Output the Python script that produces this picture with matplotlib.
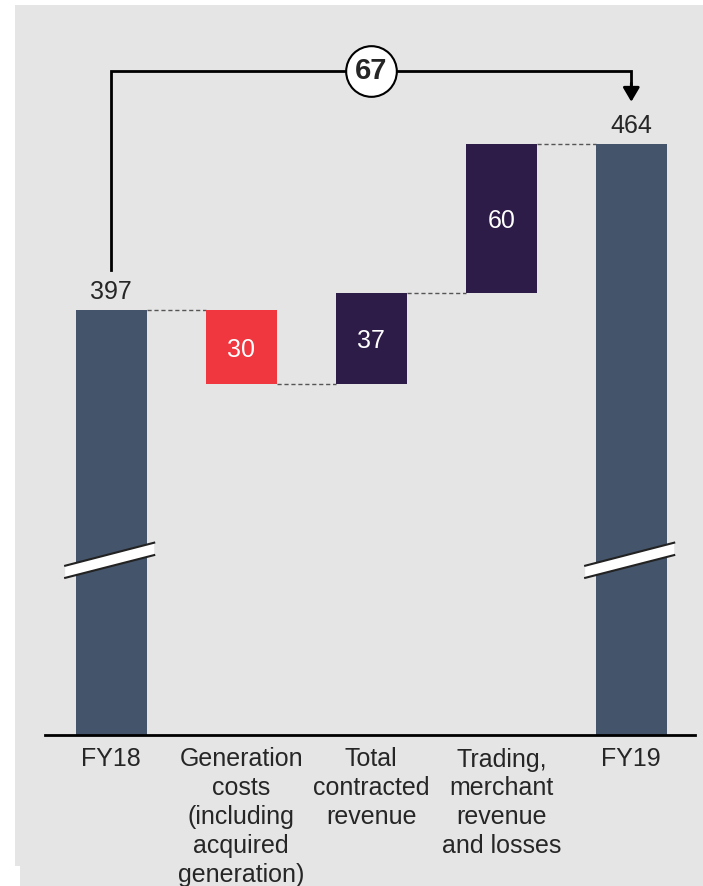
import matplotlib
matplotlib.use("Agg")
import matplotlib.pyplot as plt
from matplotlib.patches import Rectangle, Polygon
import numpy as np

plt.rcParams['font.family'] = ['Liberation Sans', 'DejaVu Sans']

# data
categories = ['FY18', 'Generation\ncosts\n(including\nacquired\ngeneration)',
              'Total\ncontracted\nrevenue', 'Trading,\nmerchant\nrevenue\nand losses', 'FY19']
start_value = 397
deltas = [-30, 37, 60]
end_value = 464
total_change = 67

# colours
bg = '#e5e5e5'
total_col = '#44546a'
neg_col = '#f0363e'
pos_col = '#2d1b48'
text_col = '#262626'

# scale / layout
base = 225.5          # value at the broken axis baseline
ytop = 514.0
bar_w = 0.55

fig = plt.figure(figsize=(7.03, 8.86), dpi=100)
fig.patch.set_facecolor('white')
fig.add_artist(Rectangle((15 / 703, 0), 1, (886 - 5) / 886, transform=fig.transFigure,
                         facecolor=bg, edgecolor='none', zorder=0))
fig.add_artist(Rectangle((0, 0), 20 / 703, 20 / 886, transform=fig.transFigure,
                         facecolor='white', edgecolor='none', zorder=0))

ax = fig.add_axes([45 / 703, 151 / 886, 650 / 703, 715 / 886])
ax.set_facecolor('none')
ax.set_xlim(-0.51, 4.49)
ax.set_ylim(base, ytop)

# waterfall geometry
levels = [start_value]
for d in deltas:
    levels.append(levels[-1] + d)

x = np.arange(len(categories))

# totals
for xi, v in [(x[0], start_value), (x[-1], end_value)]:
    ax.bar(xi, v - base, bottom=base, width=bar_w, color=total_col, zorder=2)
    ax.annotate(str(v), (xi, v), xytext=(0, 4), textcoords='offset points',
                ha='center', va='bottom', fontsize=18, color=text_col)

# deltas
for i, d in enumerate(deltas):
    lo = min(levels[i], levels[i + 1])
    col = neg_col if d < 0 else pos_col
    ax.bar(x[i + 1], abs(d), bottom=lo, width=bar_w, color=col, zorder=2)
    ax.text(x[i + 1], lo + abs(d) / 2, str(abs(d)), ha='center', va='center_baseline',
            fontsize=18, color='white', zorder=3)

# dashed connectors
for i in range(len(levels)):
    y = levels[i]
    ax.plot([x[i] + bar_w / 2, x[i + 1] - bar_w / 2], [y, y], ls=(0, (3, 2)),
            lw=1, color='#555555', zorder=1)

# axis break marks
for xi in [x[0], x[-1]]:
    xl, xr = xi - 0.355, xi + 0.33
    top = [(xl, 293.8), (xr, 303.1)]
    bot = [(xl, 288.9), (xr, 298.1)]
    ax.add_patch(Polygon([top[0], top[1], bot[1], bot[0]], closed=True,
                         facecolor='white', edgecolor='none', zorder=4))
    ax.plot([p[0] for p in top], [p[1] for p in top], color='#222222', lw=1.5, zorder=5)
    ax.plot([p[0] for p in bot], [p[1] for p in bot], color='#222222', lw=1.5, zorder=5)

# bracket with total change
yb = 493.5
ax.plot([x[0], x[0], x[-1], x[-1]], [413, yb, yb, 488], color='black', lw=2,
        zorder=3, solid_joinstyle='miter')
ax.annotate('', xy=(x[-1], 481.0), xytext=(x[-1], 488.5),
            arrowprops=dict(arrowstyle='-|>,head_length=0.85,head_width=0.5',
                            color='black', lw=2, shrinkA=0, shrinkB=0), zorder=3)
ax.scatter([x[2]], [yb], s=1330, facecolor='white', edgecolor='black', lw=1.5, zorder=5)
ax.text(x[2], yb, str(total_change), ha='center', va='center', fontsize=21,
        fontweight='bold', color=text_col, zorder=6)

# axes styling
for s in ['top', 'right', 'left']:
    ax.spines[s].set_visible(False)
ax.spines['bottom'].set_linewidth(2)
ax.spines['bottom'].set_color('black')
ax.set_yticks([])
ax.set_xticks(x)
ax.set_xticklabels(categories, fontsize=18, color=text_col, linespacing=1.26)
ax.tick_params(axis='x', length=0, pad=9)

fig.savefig('out.png', dpi=100, facecolor=fig.get_facecolor())
